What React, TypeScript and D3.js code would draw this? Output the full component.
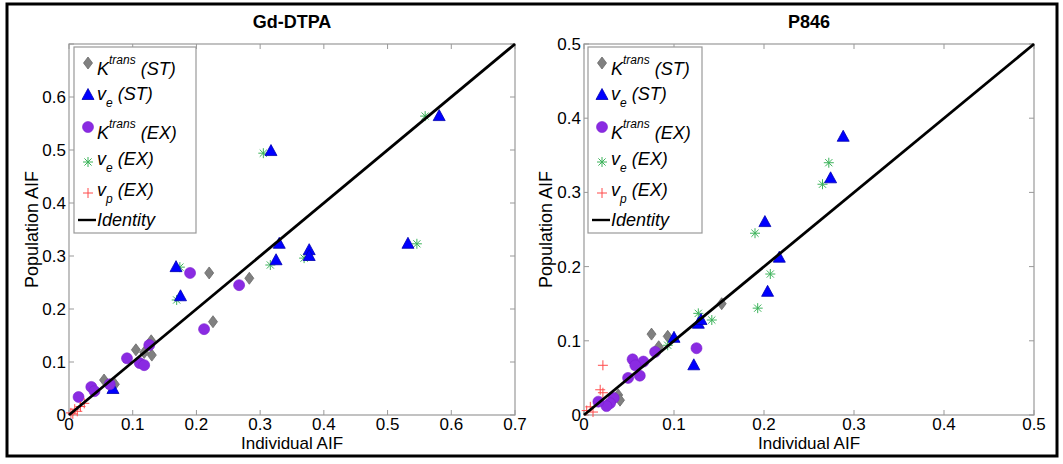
import React from 'react';
import * as d3 from 'd3';

type Pt = [number, number];

// Gd-DTPA panel
const gdKtransST: Pt[] = [[0.055, 0.066], [0.072, 0.058], [0.105, 0.123], [0.129, 0.14], [0.13, 0.113], [0.118, 0.118], [0.22, 0.268], [0.283, 0.258], [0.226, 0.176]];
const gdVeST: Pt[] = [[0.069, 0.049], [0.168, 0.279], [0.175, 0.224], [0.317, 0.498], [0.33, 0.323], [0.325, 0.292], [0.377, 0.311], [0.377, 0.3], [0.532, 0.323], [0.581, 0.564]];
const gdKtransEX: Pt[] = [[0.015, 0.034], [0.035, 0.053], [0.04, 0.045], [0.064, 0.058], [0.091, 0.107], [0.111, 0.098], [0.118, 0.094], [0.126, 0.132], [0.19, 0.268], [0.212, 0.162], [0.267, 0.245]];
const gdVeEX: Pt[] = [[0.174, 0.279], [0.169, 0.217], [0.305, 0.494], [0.316, 0.283], [0.369, 0.296], [0.546, 0.323], [0.559, 0.564]];
const gdVpEX: Pt[] = [[0.003, 0.004], [0.006, 0.002], [0.009, 0.011], [0.013, 0.007], [0.018, 0.016], [0.024, 0.022]];
const gdXTicks = [0, 0.1, 0.2, 0.3, 0.4, 0.5, 0.6, 0.7];
const gdYTicks = [0, 0.1, 0.2, 0.3, 0.4, 0.5, 0.6, 0.7];
const gdYLabels = [0, 0.1, 0.2, 0.3, 0.4, 0.5, 0.6];

// P846 panel
const pKtransST: Pt[] = [[0.153, 0.15], [0.075, 0.109], [0.093, 0.106], [0.083, 0.092], [0.038, 0.027], [0.04, 0.02]];
const pVeST: Pt[] = [[0.288, 0.375], [0.274, 0.319], [0.201, 0.26], [0.217, 0.212], [0.204, 0.166], [0.127, 0.123], [0.13, 0.128], [0.122, 0.067], [0.1, 0.104]];
const pKtransEX: Pt[] = [[0.125, 0.09], [0.079, 0.085], [0.054, 0.075], [0.066, 0.072], [0.057, 0.067], [0.049, 0.05], [0.062, 0.053], [0.033, 0.023], [0.029, 0.016], [0.025, 0.012], [0.016, 0.018]];
const pVeEX: Pt[] = [[0.272, 0.34], [0.265, 0.311], [0.19, 0.245], [0.207, 0.19], [0.193, 0.144], [0.127, 0.137], [0.142, 0.128], [0.093, 0.094]];
const pVpEX: Pt[] = [[0.021, 0.067], [0.018, 0.034], [0.021, 0.03], [0.007, 0.011], [0.01, 0.004], [0.003, 0.006]];
const pTicks = [0, 0.1, 0.2, 0.3, 0.4, 0.5];

const FONT = '"Liberation Sans", Arial, sans-serif';
const AXIS = '#999999';

const Marker = ({ kind, x, y }: { kind: string; x: number; y: number }) => {
  if (kind === 'diamond') return <path d={`M${x},${y - 6}L${x + 4.5},${y}L${x},${y + 6}L${x - 4.5},${y}Z`} fill="#808080" stroke="#6a6a6a" strokeWidth={0.8} />;
  if (kind === 'triangle') return <path d={`M${x},${y - 6.5}L${x + 6},${y + 4.5}L${x - 6},${y + 4.5}Z`} fill="#0000ff" stroke="#0000b0" strokeWidth={0.8} />;
  if (kind === 'circle') return <circle cx={x} cy={y} r={5.5} fill="#8a2be2" stroke="#7a1fd0" strokeWidth={0.6} />;
  if (kind === 'star') {
    const r = 5, d = 3.6;
    return <path d={`M${x - r},${y}H${x + r}M${x},${y - r}V${y + r}M${x - d},${y - d}L${x + d},${y + d}M${x - d},${y + d}L${x + d},${y - d}`} stroke="#3cb35a" strokeWidth={1} fill="none" />;
  }
  const r = 5;
  return <path d={`M${x - r},${y}H${x + r}M${x},${y - r}V${y + r}`} stroke="#ff4a4a" strokeWidth={1} fill="none" />;
};

type PanelProps = {
  title: string;
  left: number; right: number; top: number; bottom: number;
  xMax: number; yMax: number;
  xTicks: number[]; yTicks: number[]; yLabels: number[];
  series: { kind: string; pts: Pt[] }[];
  legendX: number; legendW: number;
  yLabelX: number;
};

const Panel = (p: PanelProps) => {
  const x = d3.scaleLinear().domain([0, p.xMax]).range([p.left, p.right]);
  const y = d3.scaleLinear().domain([0, p.yMax]).range([p.bottom, p.top]);
  const lim = Math.min(p.xMax, p.yMax);
  const line = d3.line<number>().x(v => x(v)).y(v => y(v))([0, lim]) || '';
  const fmt = (v: number) => (v === 0 ? '0' : d3.format('.1f')(v));
  const lx = p.legendX, ly = 47, lh = 186;
  const rows = [16, 48, 80, 115, 146, 173];
  return (
    <g>
      <rect x={p.left} y={p.top} width={p.right - p.left} height={p.bottom - p.top} fill="#fff" />
      {p.xTicks.map(t => (
        <g key={'x' + t}>
          <line x1={x(t)} x2={x(t)} y1={p.bottom} y2={p.bottom - 5} stroke={AXIS} />
          <line x1={x(t)} x2={x(t)} y1={p.top} y2={p.top + 5} stroke={AXIS} />
          <text x={x(t)} y={430} textAnchor="middle" fontSize={17} fontFamily={FONT}>{fmt(t)}</text>
        </g>
      ))}
      {p.yTicks.map(t => (
        <g key={'y' + t}>
          <line x1={p.left} x2={p.left + 5} y1={y(t)} y2={y(t)} stroke={AXIS} />
          <line x1={p.right} x2={p.right - 5} y1={y(t)} y2={y(t)} stroke={AXIS} />
        </g>
      ))}
      {p.yLabels.map(t => (
        <text key={'yl' + t} x={p.left - 3} y={y(t) + 6} textAnchor="end" fontSize={17} fontFamily={FONT}>{fmt(t)}</text>
      ))}
      <rect x={p.left} y={p.top} width={p.right - p.left} height={p.bottom - p.top} fill="none" stroke={AXIS} strokeWidth={1.2} />
      {p.series.map(s => s.pts.map((d, i) => <Marker key={s.kind + i} kind={s.kind} x={x(d[0])} y={y(d[1])} />))}
      <path d={line} stroke="#000" strokeWidth={2.8} fill="none" />
      <text x={(p.left + p.right) / 2} y={28} textAnchor="middle" fontSize={18} fontWeight="bold" fontFamily={FONT}>{p.title}</text>
      <text x={(p.left + p.right) / 2} y={449} textAnchor="middle" fontSize={17} fontFamily={FONT}>Individual AIF</text>
      <text transform={`translate(${p.yLabelX},${(p.top + p.bottom) / 2}) rotate(-90)`} textAnchor="middle" fontSize={18} fontFamily={FONT}>Population AIF</text>
      {/* legend */}
      <rect x={lx} y={ly} width={p.legendW} height={lh} fill="#fff" stroke={AXIS} strokeWidth={1.2} />
      <g fontFamily={FONT} fontStyle="italic" fontSize={18}>
        <Marker kind="diamond" x={lx + 14} y={ly + rows[0]} />
        <text x={lx + 23} y={ly + rows[0] + 12}>K<tspan fontSize={12} dy={-11}>trans</tspan><tspan dy={11}> (ST)</tspan></text>
        <Marker kind="triangle" x={lx + 14} y={ly + rows[1]} />
        <text x={lx + 23} y={ly + rows[1] + 5}>v<tspan fontSize={12} dy={7}>e</tspan><tspan dy={-7}> (ST)</tspan></text>
        <Marker kind="circle" x={lx + 14} y={ly + rows[2]} />
        <text x={lx + 23} y={ly + rows[2] + 12}>K<tspan fontSize={12} dy={-11}>trans</tspan><tspan dy={11}> (EX)</tspan></text>
        <Marker kind="star" x={lx + 14} y={ly + rows[3]} />
        <text x={lx + 23} y={ly + rows[3] + 3}>v<tspan fontSize={12} dy={7}>e</tspan><tspan dy={-7}> (EX)</tspan></text>
        <Marker kind="plus" x={lx + 14} y={ly + rows[4]} />
        <text x={lx + 23} y={ly + rows[4] + 3}>v<tspan fontSize={12} dy={7}>p</tspan><tspan dy={-7}> (EX)</tspan></text>
        <line x1={lx + 4} x2={lx + 22} y1={ly + rows[5]} y2={ly + rows[5]} stroke="#000" strokeWidth={2.4} />
        <text x={lx + 23} y={ly + rows[5] + 6}>Identity</text>
      </g>
    </g>
  );
};

export default function App() {
  return (
    <svg width={1063} height={464} style={{ position: 'absolute', left: 0, top: 0, background: '#fff' }}>
      <rect x={0} y={0} width={1063} height={464} fill="#fff" />
      <rect x={7} y={4} width={1050} height={452} fill="none" stroke="#000" strokeWidth={3} />
      <Panel
        title="Gd-DTPA" left={69} right={515} top={44} bottom={415} xMax={0.7} yMax={0.7}
        xTicks={gdXTicks} yTicks={gdYTicks} yLabels={gdYLabels}
        series={[
          { kind: 'diamond', pts: gdKtransST },
          { kind: 'star', pts: gdVeEX },
          { kind: 'triangle', pts: gdVeST },
          { kind: 'circle', pts: gdKtransEX },
          { kind: 'plus', pts: gdVpEX },
        ]}
        legendX={74} legendW={122} yLabelX={38}
      />
      <Panel
        title="P846" left={584} right={1034} top={44} bottom={415} xMax={0.5} yMax={0.5}
        xTicks={pTicks} yTicks={pTicks} yLabels={pTicks}
        series={[
          { kind: 'diamond', pts: pKtransST },
          { kind: 'star', pts: pVeEX },
          { kind: 'triangle', pts: pVeST },
          { kind: 'circle', pts: pKtransEX },
          { kind: 'plus', pts: pVpEX },
        ]}
        legendX={588} legendW={114} yLabelX={552}
      />
    </svg>
  );
}
